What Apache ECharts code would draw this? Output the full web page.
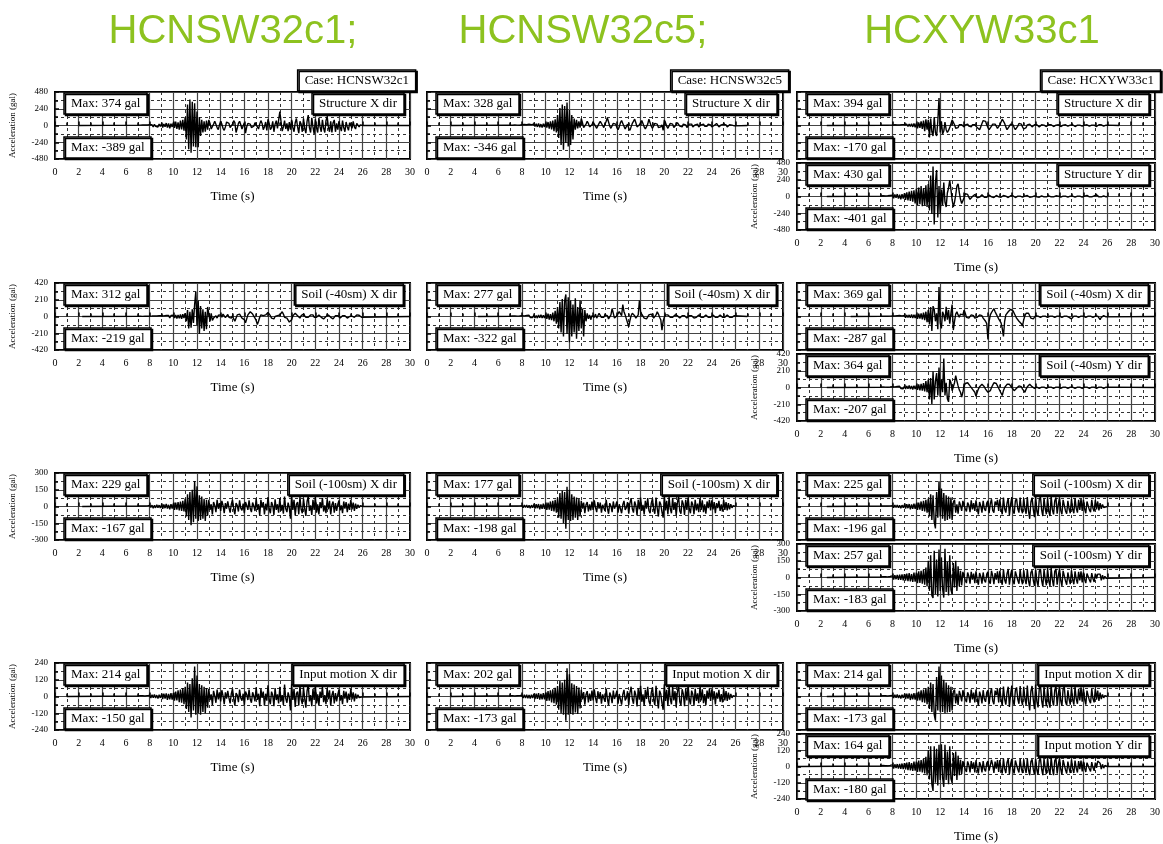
<!DOCTYPE html>
<html>
<head>
<meta charset="utf-8">
<script src="https://cdn.jsdelivr.net/npm/echarts@6/dist/echarts.min.js"></script>
<style>
  html, body { margin: 0; padding: 0; background: #fff; }
  #chart { width: 1163px; height: 844px; }
</style>
</head>
<body>
<div id="chart"></div>
<script>
// Acceleration records (gal), sampled every 0.1 s from 7.0 s to 26.0 s.
const T0 = 7.0;
const DT = 0.1;

const caseNames = ['HCNSW32c1', 'HCNSW32c5', 'HCXYW33c1'];
const headings = ['HCNSW32c1;', 'HCNSW32c5;', 'HCXYW33c1'];
const locations = ['Structure', 'Soil (-40sm)', 'Soil (-100sm)', 'Input motion'];
const yLimits = [480, 420, 300, 240];
const timeTicks = [0, 30, 2];

// ---- HCNSW32c1 ----
const c1StructureX = [
  5,-8,6,-4,9,-10,7,-5,8,-6,
  12,-15,10,-20,18,-12,15,-22,20,-14,
  25,-30,22,-18,35,-28,30,-40,25,-20,
  40,-35,55,-50,45,-60,70,-55,80,-75,
  120,-200,300,-340,374,-389,340,-300,320,-310,
  200,-310,120,-150,80,-100,60,-90,70,-60,
  80,30,-50,-70,20,60,40,-30,-60,10,
  60,20,-40,-70,-20,50,70,30,-30,-50,
  20,70,40,-100,-40,30,60,10,-50,-30,
  40,-110,-20,30,50,20,-30,-50,-10,40,
  60,-20,-50,20,70,30,-60,-20,50,-70,
  90,30,-60,-30,60,-90,20,70,-40,-60,
  200,60,-80,-20,70,-50,30,-80,50,-60,
  80,-30,-90,40,100,-20,-110,60,20,-90,
  100,-40,-110,60,150,-30,-100,110,-20,-120,
  90,-30,-100,110,-20,-90,80,-40,-100,70,
  130,-20,-90,60,-100,40,80,-90,30,-60,
  60,-20,-80,70,-30,-90,50,-20,-70,40,
  50,-40,60,-20,-50,30,20,-20,10,-8,
  0
];
const c1Soil40X = [
  3,-2,4,-3,2,-5,3,-2,4,-3,
  5,-8,6,-4,8,-10,6,-5,9,-7,
  10,-12,8,-15,12,-10,14,-18,12,-10,
  15,-20,18,-25,20,-22,25,-30,28,-20,
  40,-60,80,-150,60,-140,90,-80,150,312,
  -120,200,-219,130,-150,90,-180,60,-160,120,
  110,-60,40,-50,-20,-40,10,-20,15,-10,
  20,-10,30,5,-15,10,25,-10,5,-20,
  10,-30,-60,-40,20,40,30,10,-20,-10,
  -40,-80,-30,20,40,60,50,30,10,-20,
  -50,-100,-60,-10,20,30,10,-10,20,40,
  50,30,10,-20,-40,-30,0,20,10,-10,
  20,40,60,30,-10,-30,-20,-40,-70,-90,
  -40,10,30,40,20,10,-10,-20,10,20,
  30,10,-10,-20,-10,10,20,30,20,-10,
  -20,-10,10,20,10,-10,-20,-30,-20,0,
  10,20,10,-10,-20,-30,-10,10,20,10,
  -10,-20,-10,10,20,10,-10,-20,-10,0,
  10,5,-5,-10,5,20,30,15,-5,-10,
  0
];
const c1Soil100X = [
  4,-5,6,-4,5,-6,4,-5,6,-4,
  10,-8,12,-15,10,-12,15,-10,12,-14,
  15,-20,18,-15,22,-18,15,-25,20,-18,
  25,-30,35,-28,40,-35,45,-40,50,-45,
  70,-90,110,-120,130,-167,150,-140,229,-110,
  180,-130,100,-120,90,-110,70,-130,60,-80,
  60,-30,20,-70,40,10,-50,60,-20,30,
  -40,50,10,-60,30,-20,45,-10,-55,20,
  60,-20,-70,30,10,-45,55,-15,-35,25,
  -60,40,10,-30,55,-20,-50,35,5,-40,
  70,-30,20,-80,60,-10,40,-70,25,-35,
  85,-20,-60,40,10,-75,65,-30,20,-55,
  75,-40,15,-65,90,-20,-50,35,-10,-110,
  95,-30,60,-80,20,40,-70,85,-25,-60,
  70,-20,-85,45,90,-40,10,-75,60,-30,
  85,-55,20,-70,40,-15,75,-45,10,-60,
  65,-25,50,-70,15,45,-55,30,-40,20,
  55,-35,10,-60,45,-20,40,-50,25,-30,
  60,-25,35,-40,25,-20,15,-10,8,-5,
  0
];
const c1InputX = [
  4,-5,6,-4,5,-6,4,-5,6,-4,
  8,-10,12,-9,14,-11,10,-15,12,-10,
  15,-18,20,-15,22,-25,18,-20,25,-22,
  25,-30,35,-28,45,-40,50,-45,60,-55,
  70,-90,100,-110,90,-150,130,-100,214,-130,
  150,-120,90,-130,80,-110,70,-120,60,-80,
  55,-25,15,-60,40,5,-45,50,-20,30,
  -35,45,5,-55,30,-15,40,-10,-50,20,
  55,-15,-65,25,10,-40,50,-10,-30,20,
  -60,35,15,-25,50,-20,-45,30,5,-35,
  65,-25,20,-70,55,-10,35,-65,20,-30,
  80,-20,-55,35,10,-70,60,-25,15,-50,
  70,-35,10,-60,85,-15,-45,30,-5,-100,
  90,-25,55,-75,20,35,-65,80,-20,-55,
  65,-15,-80,40,85,-35,10,-70,55,-25,
  80,-50,15,-65,35,-10,70,-40,10,-55,
  60,-20,45,-65,10,40,-50,25,-35,15,
  50,-30,10,-55,40,-15,35,-45,20,-25,
  55,-20,30,-35,20,-15,12,-8,5,-4,
  0
];

// ---- HCNSW32c5 ----
const c5StructureX = [
  5,-6,4,-5,7,-4,6,-5,4,-6,
  10,-8,15,-12,10,-14,18,-10,12,-15,
  20,-15,25,-20,30,-25,20,-30,25,-20,
  35,-30,50,-45,60,-55,70,-80,90,-100,
  150,-180,250,-280,300,-346,280,-250,328,-300,
  220,-280,150,-200,100,-60,80,-40,60,-30,
  100,40,-30,-50,20,60,30,-20,-40,10,
  50,30,-10,-40,-20,30,60,40,0,-30,
  20,60,110,50,-10,-40,-20,30,50,20,
  -30,-60,-20,40,70,30,-10,-50,-30,20,
  -40,-70,-20,30,60,90,40,-20,-40,10,
  40,70,30,-20,-50,-30,20,90,40,-10,
  -40,-20,30,50,20,-30,-50,-20,10,-70,
  80,40,-10,-40,-20,30,50,20,-30,-40,
  10,40,30,-10,-30,-20,20,40,10,-30,
  -20,20,40,20,-20,-30,10,30,20,-20,
  -30,10,30,20,-10,-30,-10,20,30,10,
  -20,-30,0,20,30,10,-20,-20,10,30,
  20,40,10,-20,-10,10,20,5,-10,-5,
  0
];
const c5Soil40X = [
  4,-5,6,-4,8,-6,5,-7,6,-5,
  10,-12,8,-15,12,-10,15,-12,10,-14,
  15,-18,12,-20,18,-15,22,-18,15,-20,
  25,-30,35,-40,30,-45,50,-60,70,-90,
  120,-150,180,-200,220,-250,200,277,-220,240,
  -322,200,-250,150,-200,230,-280,120,-180,200,
  -150,100,-250,80,-60,40,-30,20,-40,10,
  20,-10,30,-20,10,40,20,-10,-30,-10,
  20,40,10,-30,-50,20,100,40,-20,-30,
  10,30,60,40,10,150,60,20,-30,-40,
  -130,-50,10,40,30,10,-20,-10,20,200,
  60,30,10,-20,-40,-30,-10,20,40,30,
  10,-20,-10,20,60,30,-10,-40,-170,-60,
  -10,20,30,20,10,-10,-20,-10,10,20,
  20,10,-10,-20,-10,10,20,10,-10,-20,
  -10,10,20,10,-10,-20,-30,-10,10,20,
  10,-10,-20,-10,10,20,10,-10,-20,-10,
  10,20,10,-10,-20,-10,10,20,10,-10,
  -20,-10,10,20,15,-10,-20,-10,5,10,
  0
];
const c5Soil100X = [
  4,-5,6,-4,5,-6,4,-5,6,-4,
  8,-10,12,-9,14,-11,10,-15,12,-10,
  15,-18,20,-15,22,-25,18,-20,25,-22,
  25,-30,35,-28,45,-40,50,-45,60,-55,
  80,-100,120,-110,140,-150,130,-198,177,-120,
  150,-130,110,-120,90,-100,80,-120,70,-90,
  50,-20,35,-60,15,40,-45,20,-35,45,
  -30,55,-10,-50,40,-20,35,-55,15,25,
  -40,60,-15,-65,30,5,-50,45,-20,10,
  45,-55,20,35,-60,15,50,-30,-10,40,
  -65,30,75,-20,-55,45,10,-80,60,-25,
  80,-40,15,-70,50,-20,75,-35,-60,30,
  70,-25,-65,80,-15,-90,45,20,-50,-100,
  95,-35,50,-70,85,-20,-60,75,-30,40,
  -80,35,90,-40,-65,55,20,-75,60,-30,
  80,-20,-60,45,15,-70,60,-35,25,-50,
  70,-30,55,-50,20,-65,45,-15,60,-35,
  55,-25,40,-60,30,-15,50,-40,20,-45,
  60,-30,40,-35,30,-25,20,-12,8,-6,
  0
];
const c5InputX = [
  5,-4,6,-5,4,-6,5,-4,6,-5,
  9,-11,12,-10,13,-12,11,-14,12,-11,
  16,-18,20,-16,24,-22,18,-21,24,-20,
  28,-32,38,-30,45,-42,52,-48,62,-58,
  75,-95,110,-120,100,-130,120,-173,202,-130,
  160,-125,95,-130,85,-115,75,-125,65,-85,
  48,-20,32,-58,15,38,-42,20,-32,42,
  -28,52,-10,-48,38,-18,32,-52,15,22,
  -38,56,-15,-62,28,5,-48,42,-18,10,
  42,-52,18,32,-58,15,48,-28,-10,38,
  -62,28,70,-18,-52,42,10,-72,58,-22,
  76,-38,15,-66,48,-18,70,-32,-58,28,
  66,-22,-62,76,-15,-86,42,18,-48,-95,
  88,-32,48,-66,80,-18,-56,70,-28,38,
  -76,32,86,-38,-62,52,18,-70,56,-28,
  76,-18,-56,42,15,-66,56,-32,22,-48,
  66,-28,52,-48,18,-62,42,-15,56,-32,
  52,-22,38,-56,28,-15,48,-38,18,-42,
  56,-28,38,-32,28,-22,18,-10,6,-5,
  0
];

// ---- HCXYW33c1 ----
const x1StructureX = [
  3,-4,5,-3,4,-5,3,-4,5,-3,
  6,-8,10,-6,8,-10,7,-9,12,-8,
  12,-15,18,-12,20,-15,25,-20,30,-25,
  30,-40,45,-35,60,-50,70,-80,90,-60,
  80,-170,100,-90,-150,120,-100,-150,60,394,
  -100,60,-120,-80,50,-60,-100,-70,-30,-20,
  80,60,10,-40,-60,-30,10,20,10,-10,
  -20,10,30,20,-10,-30,-20,10,20,10,
  -10,-30,-50,-60,-20,30,70,90,60,10,
  -30,-60,-50,-10,20,40,20,-10,-40,-20,
  10,50,90,70,30,-20,-60,-40,-10,20,
  40,10,-30,-60,-40,-10,30,40,20,-20,
  -50,-70,-30,10,30,20,0,-20,-10,10,
  20,10,-10,-20,-10,10,15,5,-10,-15,
  -5,10,20,10,-5,-15,-10,5,15,10,
  -5,-15,-10,5,15,10,-5,-10,-5,5,
  15,10,-5,-15,-10,5,10,5,-5,-10,
  -5,5,15,10,-5,-10,-5,5,10,5,
  -10,-15,-5,10,20,10,-5,-10,-5,5,
  0
];
const x1StructureY = [
  5,-8,10,-6,8,-12,10,-8,15,-10,
  20,-25,30,-20,35,-30,25,-40,35,-30,
  45,-50,60,-55,70,-65,80,-75,90,-100,
  110,-120,130,-110,150,-140,120,-130,160,-150,
  180,-200,300,-250,430,-401,200,380,-300,150,
  -250,100,-120,200,-80,-150,50,120,230,100,
  -50,-150,-80,20,150,180,60,-40,-100,-80,
  -20,40,60,30,-10,-40,-30,0,20,30,
  10,-20,-30,-10,15,25,10,-10,-20,-10,
  10,20,15,-5,-20,-15,5,15,10,-5,
  -15,-10,5,15,20,5,-10,-15,-5,10,
  15,10,-5,-15,-10,5,10,5,-5,-10,
  -5,5,10,15,5,-10,-15,-5,5,10,
  10,-5,-15,-10,5,10,5,-5,-10,-5,
  5,10,5,-5,-10,-5,5,10,15,5,
  -5,-10,-5,5,10,5,-5,-10,-5,5,
  10,5,-5,-10,-5,5,10,5,-5,-10,
  -5,5,10,15,5,-5,-10,-5,5,10,
  15,25,10,-5,-10,-5,5,10,5,-5,
  0
];
const x1Soil40X = [
  3,-4,5,-3,4,-5,3,-4,5,-3,
  8,-10,6,-12,10,-8,12,-10,8,-12,
  12,-15,18,-12,20,-15,25,-18,22,-20,
  25,-30,35,-25,40,-35,50,-45,60,-70,
  80,-100,120,-180,130,90,-60,40,-160,369,
  -80,-150,60,20,-60,120,-40,80,-90,40,
  150,-170,-60,30,60,20,-10,30,50,20,
  80,40,-10,-30,-20,0,20,30,10,-20,
  -30,-10,10,20,30,10,-20,-40,-60,-90,
  -287,-60,20,50,70,100,60,30,0,-30,
  -50,-80,-150,-250,-60,20,40,60,80,90,
  100,70,40,10,-20,-40,-60,-80,-90,-120,
  -40,10,40,60,40,10,-20,-40,-30,-10,
  10,15,5,-5,-10,-5,5,10,5,-5,
  -10,-5,5,10,5,-5,-10,-5,5,10,
  5,-5,-10,-5,5,10,5,-5,-10,-5,
  -30,-10,5,10,5,-5,-10,-5,5,10,
  5,-5,-10,-5,5,10,5,-5,-10,-5,
  5,10,5,-20,-40,-10,5,10,5,-5,
  0
];
const x1Soil40Y = [
  4,-5,6,-4,5,-6,4,-5,6,-4,
  10,-12,8,-14,12,-10,15,-12,10,-15,
  15,-18,20,-15,25,-20,18,-25,22,-20,
  25,-30,40,-35,45,-40,55,-50,80,-60,
  100,-150,120,-207,200,-150,80,180,-100,250,
  -120,100,-60,364,-100,60,-140,-180,100,60,
  -40,-20,60,150,80,20,-30,-60,-120,-60,
  20,50,70,60,40,20,0,-20,-40,-60,
  -110,-60,-20,10,30,40,20,10,-20,-40,
  -60,-80,-40,0,30,60,80,50,20,-10,
  -40,-60,-100,-40,0,20,40,60,40,20,
  0,-20,-40,-30,-10,10,20,30,10,-20,
  -40,-60,-20,10,30,40,20,10,0,-10,
  10,5,-5,-10,-5,5,10,5,-5,-10,
  -5,5,10,5,-5,-10,-5,5,10,5,
  -5,-10,-5,5,10,5,-5,-10,-5,5,
  10,5,-5,-10,-5,5,10,5,-5,-10,
  -5,5,10,5,-5,-10,-5,5,10,5,
  -5,-10,-5,5,10,5,-5,-10,-5,5,
  0
];
const x1Soil100X = [
  4,-5,6,-4,5,-6,4,-5,6,-4,
  8,-10,12,-9,14,-11,10,-15,12,-10,
  15,-18,20,-15,22,-25,18,-20,25,-22,
  25,-30,35,-28,45,-40,50,-45,60,-55,
  70,-90,110,-120,100,-140,-196,130,-100,225,
  -90,160,-110,120,-130,100,-120,90,-110,80,
  -120,40,60,-55,20,-65,45,10,-40,50,
  60,-20,-45,35,10,-50,55,-25,30,-40,
  55,-15,-70,40,5,-55,50,-20,-40,30,
  50,-60,25,65,-35,-55,45,10,60,-40,
  65,-25,-70,80,-20,-55,30,75,-80,20,
  85,-35,-65,50,70,-20,-55,80,-30,-60,
  75,-20,-65,85,-40,-110,40,80,-25,-95,
  90,-40,-80,60,90,-30,-85,75,-20,-70,
  80,-45,-85,95,-30,-70,50,80,-65,20,
  80,-35,-70,60,75,-40,-65,50,-20,-60,
  70,-25,-60,75,-15,-55,60,-30,70,-40,
  60,-20,-60,45,55,-30,-50,60,-15,-45,
  60,-25,45,-35,30,-20,18,-10,6,-4,
  0
];
const x1Soil100Y = [
  5,-6,8,-5,7,-8,6,-7,9,-6,
  15,-18,20,-15,22,-20,25,-22,28,-25,
  30,-28,35,-32,40,-35,30,-40,45,-38,
  45,-50,55,-48,60,-55,70,-65,90,-80,
  150,-120,200,-160,-183,240,-150,160,-170,250,
  -120,180,-100,-180,257,-130,140,-160,200,-110,
  -150,130,-90,150,-120,100,-80,60,-70,50,
  60,-25,-50,45,10,-55,50,-20,35,-50,
  55,-20,-65,40,10,-55,45,-25,-45,30,
  50,-35,-55,60,15,-60,40,-20,55,-50,
  60,-25,-65,70,-20,-55,35,70,-65,20,
  70,-30,-60,55,60,-25,-55,70,-20,-60,
  65,-15,-60,70,-30,-80,45,65,-25,-75,
  70,-30,-75,55,75,-25,-80,70,-15,-70,
  80,-30,-75,85,-20,-80,55,75,-65,20,
  75,-25,-75,60,70,-30,-65,45,-15,-60,
  65,-20,-60,55,-15,-55,50,-25,55,-45,
  45,-15,-50,35,40,-20,-45,40,-10,-40,
  35,-10,30,45,30,-25,20,-15,10,-8,
  0
];
const x1InputX = [
  4,-5,6,-4,5,-6,4,-5,6,-4,
  8,-10,12,-9,14,-11,10,-15,12,-10,
  15,-18,20,-15,22,-25,18,-20,25,-22,
  25,-30,35,-28,45,-40,50,-45,60,-55,
  70,-90,100,-110,90,-130,-173,140,-100,214,
  -110,150,-110,120,-120,100,-115,80,-110,70,
  -100,35,50,-50,20,-60,40,10,-35,45,
  55,-20,-40,30,10,-45,50,-20,28,-42,
  50,-15,-65,35,5,-50,45,-18,-38,28,
  45,-55,22,60,-30,-55,42,10,55,-42,
  60,-22,-65,72,-18,-58,28,70,-75,18,
  78,-30,-62,45,65,-18,-52,75,-28,-62,
  70,-18,-60,78,-35,-100,38,75,-22,-90,
  85,-35,-78,55,85,-28,-80,70,-18,-70,
  72,-40,-80,88,-28,-66,45,75,-60,18,
  75,-30,-66,55,70,-38,-62,45,-18,-58,
  65,-22,-58,70,-15,-52,55,-28,65,-38,
  55,-18,-58,42,50,-28,-48,55,-15,-42,
  56,-22,42,-32,28,-18,15,-10,6,-4,
  0
];
const x1InputY = [
  4,-5,7,-4,6,-7,5,-6,8,-5,
  12,-15,16,-12,18,-16,20,-18,22,-20,
  25,-22,28,-26,32,-28,25,-32,36,-30,
  36,-40,44,-38,48,-44,56,-52,72,-64,
  120,-95,150,-130,-180,150,-120,130,-140,160,
  -100,164,-80,-150,160,-100,110,-130,150,-90,
  -120,100,-70,110,-100,80,-65,50,-55,40,
  50,-20,-40,38,10,-44,40,-18,30,-44,
  45,-15,-52,32,8,-44,40,-20,-36,25,
  40,-30,-44,48,12,-48,36,-15,48,-40,
  48,-20,-52,56,-16,-48,30,56,-56,18,
  56,-24,-52,44,48,-20,-44,56,-16,-48,
  52,-12,-48,56,-24,-64,36,52,-20,-60,
  56,-24,-60,44,60,-20,-64,56,-12,-56,
  64,-24,-60,68,-16,-64,44,60,-52,16,
  60,-20,-60,48,56,-24,-52,36,-12,-48,
  52,-16,-48,44,-12,-44,40,-20,44,-36,
  36,-12,-40,28,32,-16,-36,32,-8,-32,
  28,-10,40,30,24,-20,16,-12,8,-6,
  0
];

// case index, location index, direction, record start/end (s), samples
const records = [
  { caseIdx: 0, loc: 0, dir: 'X', start: 2.0, end: 30, acc: c1StructureX },
  { caseIdx: 0, loc: 1, dir: 'X', start: 2.3, end: 30, acc: c1Soil40X },
  { caseIdx: 0, loc: 2, dir: 'X', start: 2.3, end: 30, acc: c1Soil100X },
  { caseIdx: 0, loc: 3, dir: 'X', start: 1.0, end: 30, acc: c1InputX },
  { caseIdx: 1, loc: 0, dir: 'X', start: 2.0, end: 27, acc: c5StructureX },
  { caseIdx: 1, loc: 1, dir: 'X', start: 4.3, end: 27, acc: c5Soil40X },
  { caseIdx: 1, loc: 2, dir: 'X', start: 2.0, end: 26, acc: c5Soil100X },
  { caseIdx: 1, loc: 3, dir: 'X', start: 2.0, end: 26, acc: c5InputX },
  { caseIdx: 2, loc: 0, dir: 'X', start: 2.5, end: 27, acc: x1StructureX },
  { caseIdx: 2, loc: 0, dir: 'Y', start: 2.5, end: 26, acc: x1StructureY },
  { caseIdx: 2, loc: 1, dir: 'X', start: 4.5, end: 30, acc: x1Soil40X },
  { caseIdx: 2, loc: 1, dir: 'Y', start: 2.5, end: 30, acc: x1Soil40Y },
  { caseIdx: 2, loc: 2, dir: 'X', start: 2.5, end: 26, acc: x1Soil100X },
  { caseIdx: 2, loc: 2, dir: 'Y', start: 2.5, end: 30, acc: x1Soil100Y },
  { caseIdx: 2, loc: 3, dir: 'X', start: 2.5, end: 26, acc: x1InputX },
  { caseIdx: 2, loc: 3, dir: 'Y', start: 0.0, end: 30, acc: x1InputY }
];

// ---- layout (px) ----
const W = 1163;
const colLeft = [55, 427, 797];
const colWidth = [355, 356, 358];
const rowTop = [92, 283, 473, 663];
const panelH = 67;
const yPanelShift = 71;
const headingX = [233, 583, 982];

const serif = 'Liberation Serif, Times New Roman, serif';

const grids = [], xAxes = [], yAxes = [], series = [], titles = [], graphics = [];

function boxTitle(text, pos) {
  return Object.assign({
    text,
    padding: [3, 7, 3, 7],
    backgroundColor: '#fff',
    borderColor: '#000',
    borderWidth: 1.5,
    shadowColor: '#000',
    shadowOffsetX: 1.5,
    shadowOffsetY: 1.5,
    shadowBlur: 0,
    textStyle: { fontFamily: serif, fontSize: 13, fontWeight: 'normal', color: '#000', lineHeight: 15 }
  }, pos);
}

const majorLine = { color: '#444', width: 1.2 };
const minorLine = { color: '#333', width: 1, type: [3, 3] };

records.forEach((r, i) => {
  const col = r.caseIdx;
  const left = colLeft[col], width = colWidth[col];
  const top = rowTop[r.loc] + (r.dir === 'Y' ? yPanelShift : 0);
  const lim = yLimits[r.loc];
  const showX = col < 2 || r.dir === 'Y';
  const showY = col === 0 || r.dir === 'Y';

  grids.push({ left, top, width, height: panelH, show: true, borderColor: '#000', borderWidth: 2 });

  xAxes.push({
    gridIndex: i, type: 'value', min: timeTicks[0], max: timeTicks[1], interval: timeTicks[2],
    axisLine: { show: false },
    axisTick: { show: true, inside: true, length: 4, lineStyle: { color: '#000', width: 1.5 } },
    minorTick: { show: true, splitNumber: 2, length: 3, lineStyle: { color: '#000', width: 1.5 } },
    splitLine: { show: true, lineStyle: majorLine },
    minorSplitLine: { show: true, lineStyle: minorLine },
    axisLabel: { show: showX, fontFamily: serif, fontSize: 10, color: '#000', margin: 8 },
    name: showX ? 'Time (s)' : '', nameLocation: 'middle', nameGap: 31,
    nameTextStyle: { fontFamily: serif, fontSize: 13, color: '#000' }
  });

  yAxes.push({
    gridIndex: i, type: 'value', min: -lim, max: lim, interval: lim / 2,
    axisLine: { show: false },
    axisTick: { show: true, inside: true, length: 4, lineStyle: { color: '#000', width: 1.5 } },
    minorTick: { show: true, splitNumber: 2, length: 3, lineStyle: { color: '#000', width: 1.5 } },
    splitLine: { show: true, lineStyle: majorLine },
    minorSplitLine: { show: true, lineStyle: minorLine },
    axisLabel: { show: showY, fontFamily: serif, fontSize: 9, color: '#000', margin: 7 },
    name: showY ? 'Acceleration (gal)' : '', nameLocation: 'middle', nameGap: 38,
    nameTextStyle: { fontFamily: serif, fontSize: 9, color: '#000' }
  });

  const pts = [[r.start, 0]];
  r.acc.forEach((v, k) => pts.push([+(T0 + k * DT).toFixed(2), v]));
  pts.push([r.end, 0]);

  series.push({
    type: 'line', xAxisIndex: i, yAxisIndex: i, data: pts,
    showSymbol: false, symbol: 'none', animation: false, z: 3,
    lineStyle: { color: '#000', width: 1.4 }
  });

  const peak = Math.max(...r.acc);
  const trough = Math.min(...r.acc);
  const rightEdge = left + width;
  titles.push(boxTitle('Max: ' + peak + ' gal', { left: left + 9, top: top + 1 }));
  titles.push(boxTitle('Max: ' + trough + ' gal', { left: left + 9, top: top + panelH - 22 }));
  titles.push(boxTitle(locations[r.loc] + ' ' + r.dir + ' dir', { right: W - (rightEdge - 6), top: top + 1 }));
});

caseNames.forEach((name, c) => {
  titles.push(boxTitle('Case: ' + name, { right: W - (colLeft[c] + colWidth[c] + 6), top: 70 }));
  graphics.push({
    type: 'text', x: headingX[c], y: 32, z: 10,
    style: {
      text: headings[c], fill: '#8DC21F', font: '40px "Liberation Sans", Arial, sans-serif',
      textAlign: 'center', textVerticalAlign: 'middle'
    }
  });
});

const chart = echarts.init(document.getElementById('chart'), null, { renderer: 'canvas' });
chart.setOption({
  animation: false,
  backgroundColor: '#fff',
  title: titles,
  grid: grids,
  xAxis: xAxes,
  yAxis: yAxes,
  series,
  graphic: graphics
});
</script>
</body>
</html>
